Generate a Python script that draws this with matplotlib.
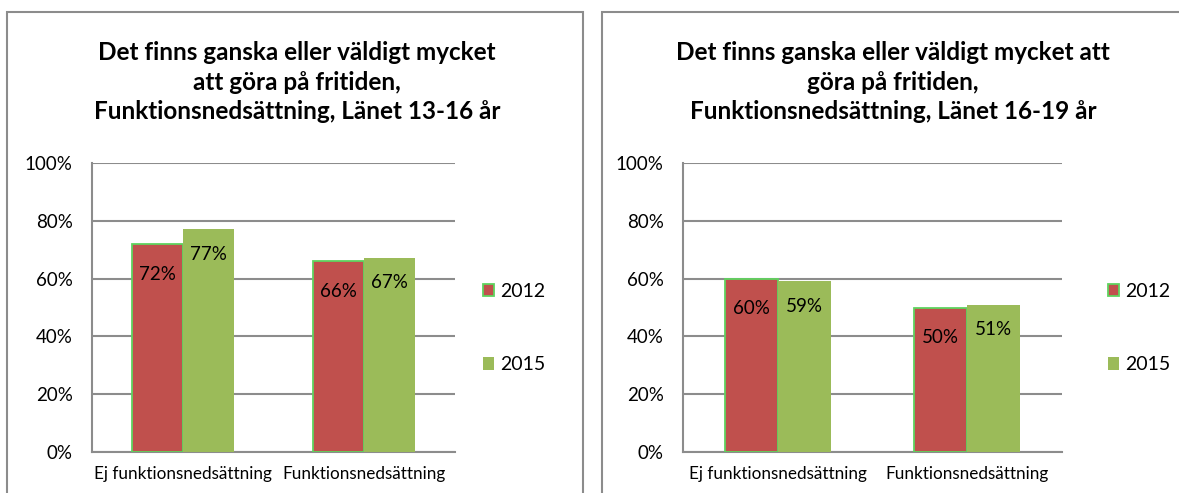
import matplotlib.pyplot as plt
from matplotlib.patches import Rectangle, Patch
import numpy as np

plt.rcParams["font.family"] = ["Lato", "DejaVu Sans"]

categories = ["Ej funktionsnedsättning", "Funktionsnedsättning"]
years = ["2012", "2015"]
vals_13_16 = {"2012": [0.72, 0.66], "2015": [0.77, 0.67]}
vals_16_19 = {"2012": [0.60, 0.50], "2015": [0.59, 0.51]}
titles = [
    "Det finns ganska eller väldigt mycket\natt göra på fritiden,\nFunktionsnedsättning, Länet 13-16 år",
    "Det finns ganska eller väldigt mycket att\ngöra på fritiden,\nFunktionsnedsättning, Länet 16-19 år",
]
yticks = [0, 0.2, 0.4, 0.6, 0.8, 1.0]

RED = "#C0504D"
GREEN = "#9BBB59"
EDGE = "#5FD35F"
GRID = "#8C8C8C"

W, H = 1179, 493
fig = plt.figure(figsize=(W / 100, H / 100), dpi=100)

def fx(px):
    return px / W

def fy(py):
    return 1 - py / H

# chart frames
for x0, x1 in [(7, 583), (602, 1185)]:
    fig.patches.append(Rectangle((fx(x0), fy(500)), fx(x1 - x0), (500 - 12) / H,
                                 transform=fig.transFigure, fill=False,
                                 edgecolor=GRID, lw=1.5))

panels = [
    (vals_13_16, titles[0], 297, 465),
    (vals_16_19, titles[1], 893, 1090),
]
axes_px = [(92, 455), (683, 1062)]

width = 0.28
x = np.arange(len(categories))

for (data, title, tx, lx), (ax0, ax1) in zip(panels, axes_px):
    ax = fig.add_axes([fx(ax0), fy(452), fx(ax1 - ax0), (452 - 163) / H])
    b1 = ax.bar(x - width / 2, data["2012"], width, color=RED,
                edgecolor=EDGE, lw=1.3, zorder=3)
    b2 = ax.bar(x + width / 2, data["2015"], width, color=GREEN, zorder=3)
    for bars, vals, off in [(b1, data["2012"], 0.105), (b2, data["2015"], 0.085)]:
        for rect, v in zip(bars, vals):
            ax.text(rect.get_x() + rect.get_width() / 2, v - off, f"{v:.0%}",
                    ha="center", va="center", fontsize=13.5, zorder=4)
    ax.set_xlim(-0.5, len(categories) - 0.5)
    ax.set_ylim(0, 1)
    ax.set_yticks(yticks)
    ax.set_yticklabels([f"{t:.0%}" for t in yticks], fontsize=13.5)
    ax.set_xticks(x)
    ax.set_xticklabels(categories, fontsize=12.3)
    ax.tick_params(axis="y", length=0, pad=14)
    ax.tick_params(axis="x", length=0, pad=10)
    ax.yaxis.grid(True, color=GRID, lw=1.5, zorder=0)
    for s in ["top", "right"]:
        ax.spines[s].set_visible(False)
    for s in ["left", "bottom"]:
        ax.spines[s].set_color(GRID)
        ax.spines[s].set_linewidth(1.5)

    fig.text(fx(tx), fy(82), title, ha="center", va="center",
             fontsize=17.5, fontweight="bold", linespacing=1.35)

    handles = [Patch(facecolor=RED, edgecolor=EDGE, lw=1.3),
               Patch(facecolor=GREEN)]
    fig.legend(handles, years, loc="center left",
               bbox_to_anchor=(fx(lx), fy(328)), frameon=False,
               fontsize=14, handlelength=0.6, handleheight=0.6,
               handletextpad=0.3, labelspacing=2.9)

plt.savefig("out.png", dpi=100)
